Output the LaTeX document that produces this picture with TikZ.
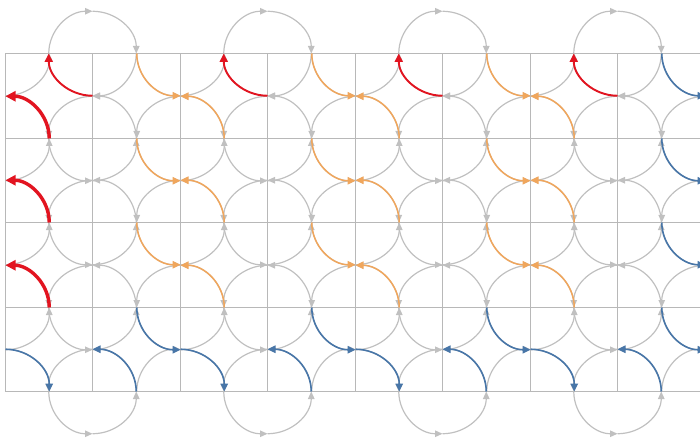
\documentclass[tikz,border=0pt]{standalone}
\usetikzlibrary{arrows.meta}
\definecolor{gridgray}{RGB}{184,184,184}
\definecolor{arcgray}{RGB}{192,192,192}
\definecolor{myred}{RGB}{226,20,32}
\definecolor{myorange}{RGB}{240,166,92}
\definecolor{myblue}{RGB}{72,118,168}
% quarter arc of the circle at lattice vertex (i,j)
\newcommand\qarc[5]{%
  \pgfmathsetmacro\qcx{floor(5+87.5*#1)+0.5}%
  \pgfmathsetmacro\qcy{floor(388-84.5*#2)+0.5}%
  \pgfmathsetmacro\qsa{#3}%
  \pgfmathsetmacro\qea{#4}%
  \draw[#5] ({\qcx+43.75*cos(\qsa)},{\qcy+42.25*sin(\qsa)})
    arc[start angle=\qsa, end angle=\qea, x radius=43.75, y radius=42.25];%
}
\newcommand\cwq[4]{\qarc{#1}{#2}{#3*90}{#3*90-90}{#4}}
\newcommand\ccwq[4]{\qarc{#1}{#2}{#3*90-90}{#3*90}{#4}}
\begin{document}
\begin{tikzpicture}[x=1pt,y=1pt,
  garc/.style={draw=arcgray,line width=1.2pt,-{Triangle[length=7.5pt,width=6.5pt]}},
  rarc/.style={draw=myred,line width=1.9pt,-{Triangle[length=8.5pt,width=8pt]}},
  rthick/.style={draw=myred,line width=3.4pt,-{Triangle[length=10pt,width=10pt]}},
  oarc/.style={draw=myorange,line width=1.5pt,-{Triangle[length=8pt,width=7.5pt]}},
  barc/.style={draw=myblue,line width=1.6pt,-{Triangle[length=8pt,width=7.5pt]}},
  gridline/.style={draw=gridgray,line width=1pt}]
\useasboundingbox (0,0) rectangle (700,442);
\clip (0,0) rectangle (700,442);
% grid
\foreach \i in {0,...,8} {
  \pgfmathsetmacro\gx{floor(5+87.5*\i)+0.5}
  \draw[gridline] (\gx,50.5) -- (\gx,388.5);
}
\foreach \j in {0,...,4} {
  \pgfmathsetmacro\gy{floor(388-84.5*\j)+0.5}
  \draw[gridline] (5.5,\gy) -- (710,\gy);
}
% gray circles, row 0
\foreach \i in {1,3,5,7} {\foreach \q in {1,2,3,4} {\cwq{\i}{0}{\q}{garc}}}
\foreach \i in {2,4,6,8} {\foreach \q in {3,4} {\ccwq{\i}{0}{\q}{garc}}}
\ccwq{0}{0}{4}{garc}
% rows 1-3
\foreach \j in {1,2,3} {
  \foreach \q in {1,4} {\ccwq{0}{\j}{\q}{garc}}
  \foreach \i in {1,...,7} {\foreach \q in {1,2,3,4} {\ccwq{\i}{\j}{\q}{garc}}}
  \foreach \q in {2,3} {\ccwq{8}{\j}{\q}{garc}}
}
% row 4
\foreach \i in {1,3,5,7} {\foreach \q in {1,2,3,4} {\ccwq{\i}{4}{\q}{garc}}}
\foreach \i in {2,4,6,8} {\foreach \q in {1,2} {\cwq{\i}{4}{\q}{garc}}}
\cwq{0}{4}{1}{garc}
% coloured arcs
\foreach \i in {1,3,5,7} {\cwq{\i}{0}{3}{rarc}}
\foreach \j in {1,2,3} {\ccwq{0}{\j}{1}{rthick}}
\foreach \c in {2,4,6} {
  \ccwq{\c}{0}{3}{oarc}
  \ccwq{\c}{1}{3}{oarc}
  \ccwq{\c}{2}{3}{oarc}
  \ccwq{\c}{1}{1}{oarc}
  \ccwq{\c}{2}{1}{oarc}
  \ccwq{\c}{3}{1}{oarc}
  \ccwq{\c}{3}{3}{barc}
  \cwq{\c}{4}{1}{barc}
}
\foreach \i in {1,3,5,7} {\ccwq{\i}{4}{1}{barc}}
\cwq{0}{4}{1}{barc}
\foreach \j in {0,1,2,3} {\ccwq{8}{\j}{3}{barc}}
\end{tikzpicture}
\end{document}
